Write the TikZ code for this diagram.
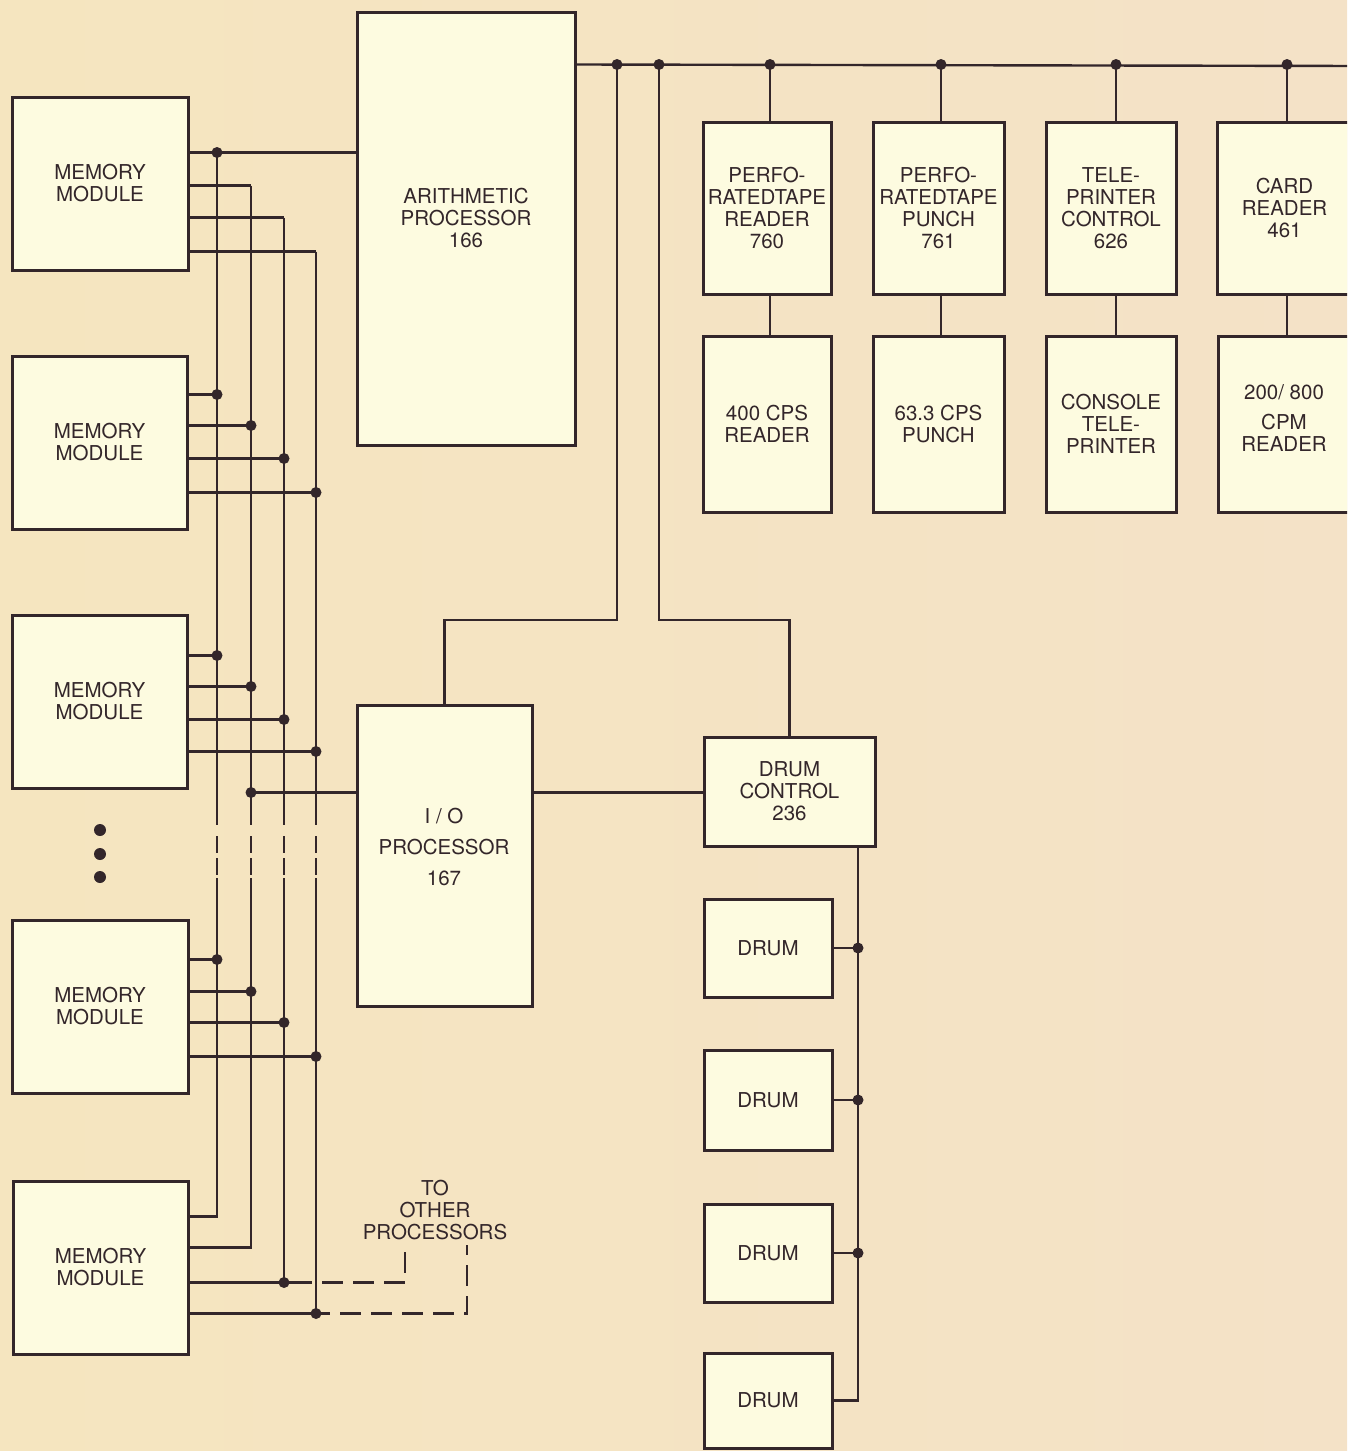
\documentclass[tikz,border=0pt]{standalone}
\usepackage{fontspec}
\setmainfont{TeX Gyre Heros}
\usetikzlibrary{calc}
\definecolor{bgA}{HTML}{F5E5BF}
\definecolor{bgB}{HTML}{F4E2C7}
\definecolor{boxfill}{HTML}{FDFBE0}
\definecolor{ink}{HTML}{33262A}
\newcommand\bx[6]{\node[box, minimum width={#4-#2}, minimum height={#5-#3}] (#1) at ({(#2+#4)/2},{(#3+#5)/2}) {#6};}
\begin{document}
\begin{tikzpicture}[x=1pt,y=-1pt,
  txt/.style={font=\fontsize{20.5}{22}\selectfont, text=ink, align=center},
  box/.style={draw=ink, fill=boxfill, line width=3pt, inner sep=0pt, txt},
  lbl/.style={txt, inner sep=0pt},
  wire/.style={draw=ink, line width=2.4pt},
  dot/.style={circle, fill=ink, inner sep=0pt, minimum size=11pt},
  bigdot/.style={circle, fill=ink, inner sep=0pt, minimum size=12pt},
  dashline/.style={wire, dash pattern=on 21pt off 10pt, dash phase=21pt},
  gapdash/.style={wire, dash pattern=on 0pt off 11pt on 17pt off 5pt on 17pt off 4pt}
]
\clip (0,0) rectangle (1347,1451);
\shade[left color=bgA, right color=bgB] (0,0) rectangle (1347,1451);

% ---------- columns / reference coordinates
\coordinate (v1) at (217,0);
\coordinate (v2) at (251,0);
\coordinate (v3) at (284,0);
\coordinate (v4) at (316,0);
\coordinate (gapTop) at (0,825);
\coordinate (gapBot) at (0,878);

% ---------- memory modules
\bx{m1}{12}{97}{188}{270}{MEMORY\\MODULE}
\bx{m2}{12}{356}{187}{529}{MEMORY\\MODULE}
\bx{m3}{12}{615}{187}{788}{MEMORY\\MODULE}
\bx{m4}{12}{920}{188}{1093}{MEMORY\\MODULE}
\bx{m5}{13}{1181}{188}{1354}{MEMORY\\MODULE}

% ---------- processors
\bx{ap}{357}{12}{575}{445}{}
\node[lbl] (aptxt) at (466,218) {ARITHMETIC\\PROCESSOR\\166};
\bx{io}{357}{705}{532}{1006}{}
\node[lbl, font=\fontsize{20.5}{31}\selectfont] (iotxt) at (444,847) {I / O\\PROCESSOR\\167};

% ---------- peripherals
\bx{p1}{703}{122}{831}{294}{PERFO-\\RATEDTAPE\\READER\\760}
\bx{p2}{873}{122}{1004}{294}{PERFO-\\RATEDTAPE\\PUNCH\\761}
\bx{p3}{1046}{122}{1176}{294}{TELE-\\PRINTER\\CONTROL\\626}
\bx{p4}{1217}{122}{1352}{294}{CARD\\READER\\461}
\bx{q1}{703}{336}{831}{512}{400 CPS\\READER}
\bx{q2}{873}{336}{1004}{512}{63.3 CPS\\PUNCH}
\bx{q3}{1046}{336}{1176}{512}{CONSOLE\\TELE-\\PRINTER}
\bx{q4}{1218}{336}{1352}{512}{}
\node[lbl] (q4txt) at (1284,418) {200/ 800\\[8pt]CPM\\READER};

% ---------- drums
\bx{dc}{704}{737}{875}{846}{DRUM\\CONTROL\\236}
\bx{d1}{704}{899}{832}{997}{DRUM}
\bx{d2}{704}{1050}{832}{1150}{DRUM}
\bx{d3}{704}{1204}{832}{1302}{DRUM}
\bx{d4}{704}{1353}{832}{1448}{DRUM}

% ---------- module 1 lines
\coordinate (a1) at ($(m1.north east)+(0,57)$);
\coordinate (a2) at ($(m1.north east)+(0,90)$);
\coordinate (a3) at ($(m1.north east)+(0,122)$);
\coordinate (a4) at ($(m1.north east)+(0,156)$);
% ---------- module 5 lines
\coordinate (e1) at ($(m5.north east)+(0,37)$);
\coordinate (e2) at ($(m5.north east)+(0,68)$);
\coordinate (e3) at ($(m5.north east)+(0,103)$);
\coordinate (e4) at ($(m5.north east)+(0,134)$);

\draw[wire] (a1) -- (a1 -| ap.west);
\node[dot] (ja1) at (a1 -| v1) {};
\draw[wire] (a2) -- (a2 -| v2);
\draw[wire] (a3) -- (a3 -| v3);
\draw[wire] (a4) -- (a4 -| v4);

% verticals with broken section
\draw[wire] (a1 -| v1) -- (v1 |- gapTop);
\draw[gapdash] (v1 |- gapTop) -- (v1 |- gapBot);
\draw[wire] (v1 |- gapBot) -- (e1 -| v1) -- (e1);
\draw[wire] (a2 -| v2) -- (v2 |- gapTop);
\draw[gapdash] (v2 |- gapTop) -- (v2 |- gapBot);
\draw[wire] (v2 |- gapBot) -- (e2 -| v2) -- (e2);
\draw[wire] (a3 -| v3) -- (v3 |- gapTop);
\draw[gapdash] (v3 |- gapTop) -- (v3 |- gapBot);
\draw[wire] (v3 |- gapBot) -- (e3 -| v3);
\draw[wire] (a4 -| v4) -- (v4 |- gapTop);
\draw[gapdash] (v4 |- gapTop) -- (v4 |- gapBot);
\draw[wire] (v4 |- gapBot) -- (e4 -| v4);

% module 2-4 taps
\foreach \m/\oa/\ob/\oc/\od in {m2/40/71/104/138, m3/42/73/106/138, m4/41/73/104/138}{
  \coordinate (t1) at ($(\m.north east)+(0,\oa)$);
  \coordinate (t2) at ($(\m.north east)+(0,\ob)$);
  \coordinate (t3) at ($(\m.north east)+(0,\oc)$);
  \coordinate (t4) at ($(\m.north east)+(0,\od)$);
  \draw[wire] (t1) -- (t1 -| v1) node[dot] {};
  \draw[wire] (t2) -- (t2 -| v2) node[dot] {};
  \draw[wire] (t3) -- (t3 -| v3) node[dot] {};
  \draw[wire] (t4) -- (t4 -| v4) node[dot] {};
}

% I/O processor tap and drum control link
\coordinate (iol) at ($(io.north west)+(0,89)$);
\draw[wire] (iol -| v2) node[dot] {} -- (iol);
\draw[wire] (iol -| io.east) -- (iol -| dc.west);

% to other processors
\node[lbl] (other) at (435,1210) {TO\\OTHER\\PROCESSORS};
\coordinate (o1) at ($(other.south)+(-30,5)$);
\coordinate (o2) at ($(other.south)+(32,5)$);
\coordinate (s3) at ($(e3 -| v3)+(28,0)$);
\coordinate (s4) at ($(e4 -| v4)+(14,0)$);
\draw[wire] (e3) -- (s3);
\node[dot] at (e3 -| v3) {};
\draw[dashline] (s3) -- (s3 -| o1) -- (o1);
\draw[wire] (e4) -- (s4);
\node[dot] at (e4 -| v4) {};
\draw[dashline] (s4) -- (s4 -| o2) -- (o2);

% ---------- top bus
\coordinate (busL) at ($(ap.north east)+(0,54)$);
\coordinate (busR) at (1360,66);
\draw[wire] (busL) -- (busR);
\coordinate (k1) at (617,620);
\coordinate (k2) at (659,620);
\draw[wire] (k1 |- busL) node[dot] {} -- (k1) -- (k1 -| io.north) -- (io.north);
\draw[wire] (k2 |- busL) node[dot] {} -- (k2) -- (k2 -| dc.north) -- (dc.north);

\foreach \c/\p/\q in {770/p1/q1, 941/p2/q2, 1116/p3/q3, 1287/p4/q4}{
  \coordinate (cc) at (\c,0);
  \draw[wire] (cc |- busL) node[dot] {} -- (cc |- \p.north);
  \draw[wire] (cc |- \p.south) -- (cc |- \q.north);
}

% ---------- drum bus
\coordinate (db) at (858,0);
\draw[wire] (db |- dc.south) -- (db |- d4.east) -- (d4.east);
\draw[wire] (d1.east) -- (db |- d1.east) node[dot] {};
\draw[wire] (d2.east) -- (db |- d2.east) node[dot] {};
\draw[wire] (d3.east) -- (db |- d3.east) node[dot] {};

% ---------- ellipsis dots
\node[bigdot] (e_a) at (100,830) {};
\node[bigdot] (e_b) at (100,854) {};
\node[bigdot] (e_c) at (100,877) {};
\end{tikzpicture}
\end{document}
